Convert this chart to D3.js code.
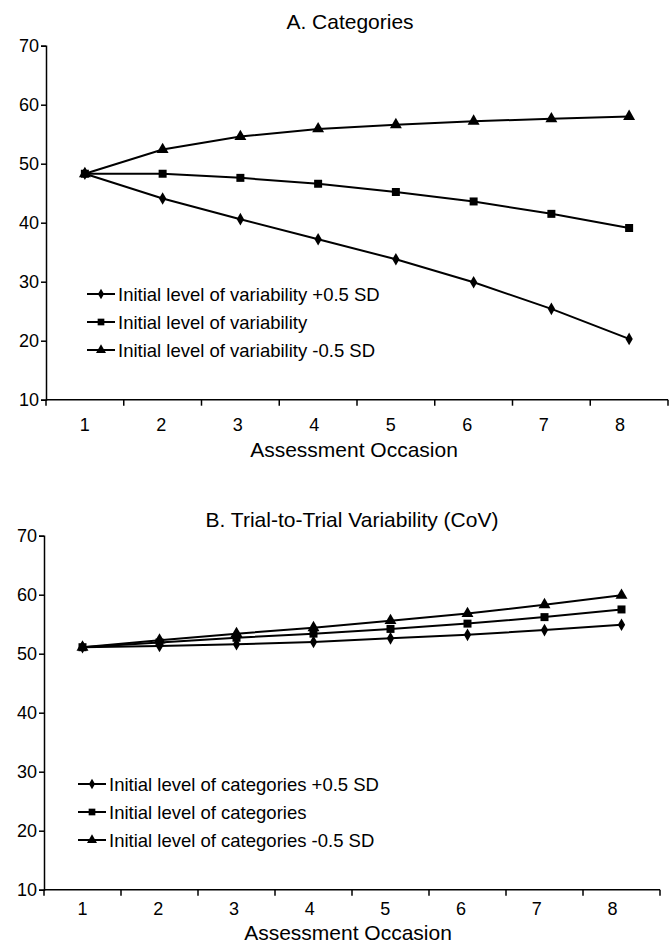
<!DOCTYPE html>
<meta charset="utf-8">
<style>
body { margin: 0; background: #fff; }
svg text { font-family: "Liberation Sans", Arial, sans-serif; fill: #000; }
</style>
<script src="https://cdn.jsdelivr.net/npm/d3@7"></script>
<div id="chart"></div>
<script>

// data
var occasions = [1, 2, 3, 4, 5, 6, 7, 8];
var yTicks = [10, 20, 30, 40, 50, 60, 70];

var catPlus  = [48.3, 44.1, 40.6, 37.2, 33.8, 29.9, 25.4, 20.3];
var catMid   = [48.3, 48.3, 47.6, 46.6, 45.2, 43.6, 41.5, 39.1];
var catMinus = [48.3, 52.4, 54.6, 55.9, 56.6, 57.2, 57.6, 58.0];

var covPlus  = [51.1, 51.3, 51.6, 52.0, 52.6, 53.2, 54.0, 54.9];
var covMid   = [51.1, 51.9, 52.7, 53.4, 54.2, 55.1, 56.2, 57.5];
var covMinus = [51.1, 52.3, 53.4, 54.4, 55.6, 56.8, 58.3, 59.9];

var labelsA = ["Initial level of variability +0.5 SD", "Initial level of variability", "Initial level of variability -0.5 SD"];
var labelsB = ["Initial level of categories +0.5 SD", "Initial level of categories", "Initial level of categories -0.5 SD"];

var shapes = [d3.symbolDiamond, d3.symbolSquare, d3.symbolTriangle];
var shapeSize = [46, 64, 62];

var svg = d3.select("#chart").append("svg")
  .attr("width", 669)
  .attr("height", 943);

function panel(cfg) {
  var g = svg.append("g");

  var x = d3.scaleBand().domain(occasions).range([cfg.left, cfg.right]);
  var y = d3.scaleLinear().domain([10, 70]).range([cfg.bottom, cfg.top]);
  // tick labels sit a bit tighter than the points in the original
  var half = x.bandwidth() / 2;
  var xl = d3.scalePoint().domain(occasions)
    .range([x(1) + half, x(8) + half - 9]);

  // y axis
  var yAxis = g.append("g")
    .attr("transform", "translate(" + cfg.left + ",0)")
    .call(d3.axisLeft(y).tickValues(yTicks).tickSize(5).tickPadding(2));
  yAxis.selectAll("text").attr("font-size", 18).attr("font-family", "Liberation Sans").attr("fill", "#000");
  yAxis.select(".domain").attr("stroke-width", 1.5);
  yAxis.selectAll(".tick line").attr("stroke-width", 1.5);

  // x axis, ticks between categories
  var xAxis = g.append("g")
    .attr("transform", "translate(0," + cfg.bottom + ")");
  xAxis.append("line")
    .attr("x1", cfg.left).attr("x2", cfg.right)
    .attr("stroke", "#000").attr("stroke-width", 1.5);
  xAxis.selectAll(".tk")
    .data(occasions.concat([9]))
    .enter().append("line")
    .attr("x1", function(d) { return d <= 8 ? x(d) : cfg.right; })
    .attr("x2", function(d) { return d <= 8 ? x(d) : cfg.right; })
    .attr("y1", 0).attr("y2", 6)
    .attr("stroke", "#000").attr("stroke-width", 1.5);
  xAxis.selectAll(".lb")
    .data(occasions)
    .enter().append("text")
    .attr("x", function(d) { return xl(d); })
    .attr("y", cfg.labelDy)
    .attr("text-anchor", "middle")
    .attr("font-size", 18)
    .text(function(d) { return d; });

  g.append("text")
    .attr("x", cfg.titleX).attr("y", cfg.titleY)
    .attr("text-anchor", "middle")
    .attr("font-size", 21)
    .text(cfg.title);

  g.append("text")
    .attr("x", cfg.axisTitleX).attr("y", cfg.bottom + cfg.axisTitleDy)
    .attr("text-anchor", "middle")
    .attr("font-size", 21)
    .text("Assessment Occasion");

  var line = d3.line()
    .x(function(d, i) { return x(occasions[i]) + half; })
    .y(function(d) { return y(d); });

  cfg.series.forEach(function(s, k) {
    g.append("path")
      .datum(s)
      .attr("d", line)
      .attr("fill", "none")
      .attr("stroke", "#000")
      .attr("stroke-width", 2);
    g.selectAll(".m" + k)
      .data(s)
      .enter().append("path")
      .attr("transform", function(d, i) {
        return "translate(" + (x(occasions[i]) + half) + "," + y(d) + ")";
      })
      .attr("d", d3.symbol().type(shapes[k]).size(shapeSize[k]))
      .attr("fill", "#000");
  });

  // legend
  var lg = g.append("g");
  cfg.labels.forEach(function(lab, k) {
    var ly = cfg.legendY + k * 28;
    lg.append("line")
      .attr("x1", cfg.legendX).attr("x2", cfg.legendX + 28)
      .attr("y1", ly).attr("y2", ly)
      .attr("stroke", "#000").attr("stroke-width", 2);
    lg.append("path")
      .attr("transform", "translate(" + (cfg.legendX + 14) + "," + ly + ")")
      .attr("d", d3.symbol().type(shapes[k]).size(shapeSize[k] * 0.7))
      .attr("fill", "#000");
    lg.append("text")
      .attr("x", cfg.legendX + 31).attr("y", ly + 6.5)
      .attr("font-size", 18.5)
      .text(lab);
  });
}

panel({
  left: 46, right: 668, top: 45.7, bottom: 399.7,
  title: "A. Categories", titleX: 350, titleY: 29,
  axisTitleX: 354, labelDy: 31, axisTitleDy: 57,
  series: [catPlus, catMid, catMinus],
  labels: labelsA, legendX: 87, legendY: 294
});

panel({
  left: 44, right: 660, top: 535.7, bottom: 889.7,
  title: "B. Trial-to-Trial Variability (CoV)", titleX: 352, titleY: 527,
  axisTitleX: 348, labelDy: 25, axisTitleDy: 50,
  series: [covPlus, covMid, covMinus],
  labels: labelsB, legendX: 78, legendY: 784
});

</script>
